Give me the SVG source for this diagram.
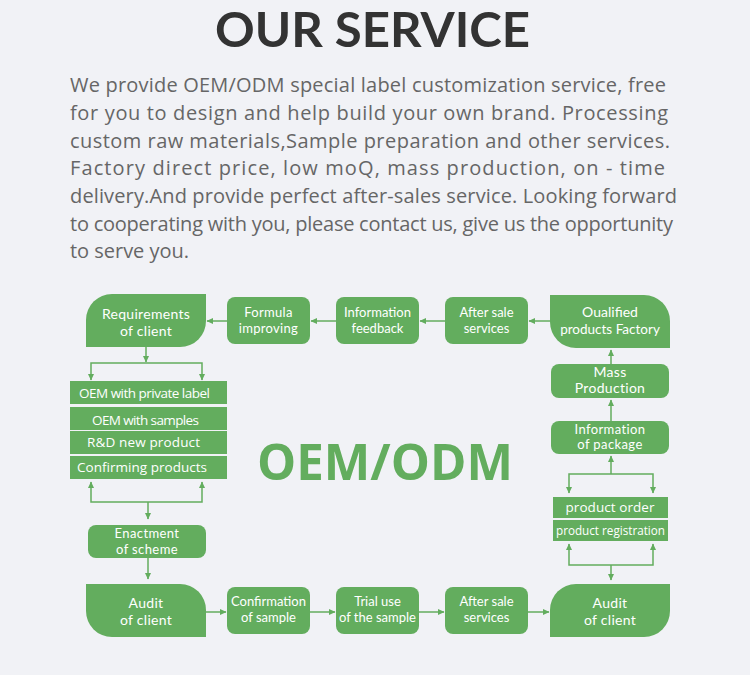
<svg xmlns="http://www.w3.org/2000/svg" width="750" height="675" viewBox="0 0 750 675">
<style>
.bg{fill:#f1f2f6}
.g{fill:#63ad5e}
.t{font-family:"Open Sans","Noto Sans","DejaVu Sans",sans-serif;fill:#ffffff;font-size:13.5px;text-anchor:middle}
.m{font-family:Lato,"Open Sans",sans-serif;fill:#ffffff;font-size:14px;text-anchor:middle}
.s{font-size:13px}
.p{font-family:"Open Sans","DejaVu Sans",sans-serif;fill:#666666;font-size:20px}
.c{fill:none;stroke:#63ad5e;stroke-width:1.5;marker-end:url(#ah)}
</style>
<defs>
<marker id="ah" markerUnits="userSpaceOnUse" markerWidth="7" markerHeight="7" refX="6" refY="3.5" orient="auto">
<path d="M0,0.5 L6.5,3.5 L0,6.5 z" fill="#63ad5e"/>
</marker>
</defs>
<rect class="bg" x="0" y="0" width="750" height="675"/>
<text x="372.5" y="47" font-family="Lato,'Open Sans',sans-serif" font-weight="bold" font-size="47" fill="#333333" text-anchor="middle" textLength="315" lengthAdjust="spacingAndGlyphs">OUR SERVICE</text>
<g id="paragraph">
<text class="p" x="70" y="92" textLength="596" lengthAdjust="spacing">We provide OEM/ODM special label customization service, free</text>
<text class="p" x="70" y="120" textLength="598" lengthAdjust="spacing">for you to design and help build your own brand. Processing</text>
<text class="p" x="70" y="147.5" textLength="600" lengthAdjust="spacing">custom raw materials,Sample preparation and other services.</text>
<text class="p" x="70" y="175" textLength="595" lengthAdjust="spacing">Factory direct price, low moQ, mass production, on - time</text>
<text class="p" x="70" y="203" textLength="607" lengthAdjust="spacing">delivery.And provide perfect after-sales service. Looking forward</text>
<text class="p" x="70" y="230.5" textLength="603" lengthAdjust="spacing">to cooperating with you, please contact us, give us the opportunity</text>
<text class="p" x="70" y="258" textLength="119" lengthAdjust="spacing">to serve you.</text>
</g>
<text id="center-label" x="385" y="480" font-family="'Open Sans','DejaVu Sans',sans-serif" font-weight="bold" font-size="51" fill="#63ad5e" text-anchor="middle" textLength="256" lengthAdjust="spacingAndGlyphs">OEM/ODM</text>
<g id="connectors">
<path class="c" d="M550,321 L529,321"/>
<path class="c" d="M445,321 L420,321"/>
<path class="c" d="M336,321 L311,321"/>
<path class="c" d="M227,321 L207,321"/>
<path class="c" d="M611,364 L611,350"/>
<path class="c" d="M611,421 L611,400"/>
<path class="c" d="M611,474 L611,456"/>
<path class="c" d="M611,474 L569,474 L569,493"/>
<path class="c" d="M611,474 L653,474 L653,493"/>
<path class="c" d="M611,565 L569,565 L569,544"/>
<path class="c" d="M611,565 L653,565 L653,544"/>
<path class="c" d="M611,565 L611,580"/>
<path class="c" d="M146,347 L146,362"/>
<path class="c" d="M146,363 L91,363 L91,380"/>
<path class="c" d="M146,363 L202,363 L202,380"/>
<path class="c" d="M148,502 L91,502 L91,482"/>
<path class="c" d="M148,502 L202,502 L202,482"/>
<path class="c" d="M148,502 L148,519"/>
<path class="c" d="M148,558 L148,579"/>
<path class="c" d="M206,612 L226,612"/>
<path class="c" d="M310,612 L335,612"/>
<path class="c" d="M419,612 L444,612"/>
<path class="c" d="M528,612 L549,612"/>
</g>
<g id="requirements">
<path class="g" d="M86,347 L86,320 A26,26 0 0 1 112,294 L206,294 L206,321 A26,26 0 0 1 180,347 Z"/>
<text class="m" letter-spacing="0.3"><tspan x="146" y="318.5">Requirements</tspan><tspan x="146" y="335.5">of client</tspan></text>
</g>
<g id="formula">
<rect class="g" x="227" y="297" width="83" height="47" rx="8"/>
<text class="m s" letter-spacing="0.3"><tspan x="268.5" y="317">Formula</tspan><tspan x="268.5" y="333">improving</tspan></text>
</g>
<g id="info-feedback">
<rect class="g" x="336" y="297" width="83" height="47" rx="8"/>
<text class="m s"><tspan x="377.5" y="317">Information</tspan><tspan x="377.5" y="333">feedback</tspan></text>
</g>
<g id="after-sale-top">
<rect class="g" x="445" y="297" width="83" height="47" rx="8"/>
<text class="m s"><tspan x="486.5" y="316.5">After sale</tspan><tspan x="486.5" y="332.5">services</tspan></text>
</g>
<g id="qualified">
<path class="g" d="M550,295 L644,295 A26,26 0 0 1 670,321 L670,348 L576,348 A26,26 0 0 1 550,322 Z"/>
<text class="m"><tspan x="610" y="317">Oualified</tspan><tspan x="610" y="334" font-size="13.5">products Factory</tspan></text>
</g>
<g id="mass-production">
<rect class="g" x="551" y="364" width="118" height="34" rx="8"/>
<text class="m" letter-spacing="0.3"><tspan x="610" y="377">Mass</tspan><tspan x="610" y="393">Production</tspan></text>
</g>
<g id="info-package">
<rect class="g" x="551" y="421" width="118" height="33" rx="8"/>
<text class="m s" letter-spacing="0.4"><tspan x="610" y="433.5">Information</tspan><tspan x="610" y="449">of package</tspan></text>
</g>
<g id="product-order">
<rect class="g" x="553" y="497" width="115" height="21"/>
<text class="t" x="610" y="512" textLength="89" lengthAdjust="spacing">product order</text>
</g>
<g id="product-registration">
<rect class="g" x="553" y="520" width="115" height="21"/>
<text class="t" font-size="12.5" x="610.5" y="535" textLength="109" lengthAdjust="spacingAndGlyphs">product registration</text>
</g>
<g id="oem-private">
<rect class="g" x="70" y="381" width="157" height="23"/>
<text class="t" x="144.5" y="398" textLength="131" lengthAdjust="spacing">OEM with private label</text>
</g>
<g id="oem-samples">
<rect class="g" x="70" y="407" width="157" height="23"/>
<text class="t" x="145.5" y="425" textLength="107" lengthAdjust="spacing">OEM with samples</text>
</g>
<g id="rd-new">
<rect class="g" x="70" y="431" width="157" height="23"/>
<text class="t" x="143.5" y="447" textLength="113" lengthAdjust="spacing">R&amp;D new product</text>
</g>
<g id="confirming">
<rect class="g" x="70" y="456" width="157" height="23"/>
<text class="t" x="142" y="472" textLength="130" lengthAdjust="spacing">Confirming products</text>
</g>
<g id="enactment">
<rect class="g" x="88" y="525" width="118" height="33" rx="8"/>
<text class="m s" letter-spacing="0.4"><tspan x="147" y="538">Enactment</tspan><tspan x="147" y="553.5">of scheme</tspan></text>
</g>
<g id="audit-left">
<path class="g" d="M86,584 L180,584 A26,26 0 0 1 206,610 L206,637 L112,637 A26,26 0 0 1 86,611 Z"/>
<text class="m" letter-spacing="0.3"><tspan x="146" y="607.5">Audit</tspan><tspan x="146" y="624.5">of client</tspan></text>
</g>
<g id="confirmation">
<rect class="g" x="227" y="587" width="83" height="47" rx="8"/>
<text class="m s"><tspan x="268.5" y="606">Confirmation</tspan><tspan x="268.5" y="622">of sample</tspan></text>
</g>
<g id="trial-use">
<rect class="g" x="336" y="587" width="83" height="47" rx="8"/>
<text class="m s"><tspan x="377.5" y="606">Trial use</tspan><tspan x="377.5" y="622">of the sample</tspan></text>
</g>
<g id="after-sale-bottom">
<rect class="g" x="445" y="587" width="83" height="47" rx="8"/>
<text class="m s"><tspan x="486.5" y="606">After sale</tspan><tspan x="486.5" y="622">services</tspan></text>
</g>
<g id="audit-right">
<path class="g" d="M550,637 L550,610 A26,26 0 0 1 576,584 L670,584 L670,611 A26,26 0 0 1 644,637 Z"/>
<text class="m" letter-spacing="0.3"><tspan x="610" y="607.5">Audit</tspan><tspan x="610" y="624.5">of client</tspan></text>
</g>
</svg>
